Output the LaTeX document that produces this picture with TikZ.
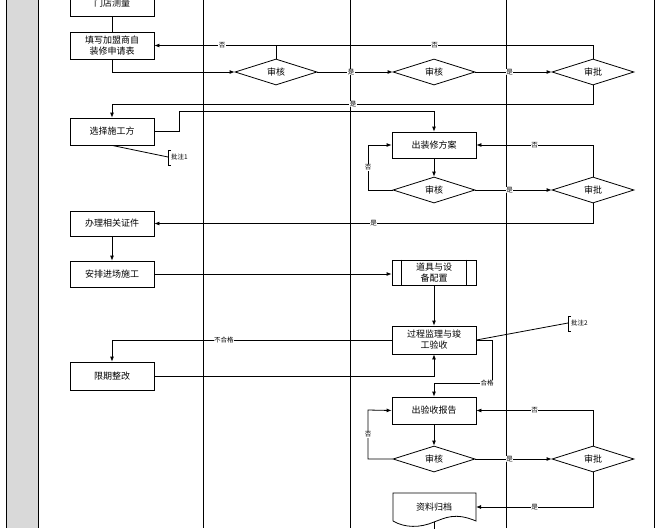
\documentclass[tikz,border=0pt]{standalone}
\usepackage{fontspec}
\setmainfont{Noto Sans CJK SC}
\usetikzlibrary{arrows.meta,shapes.geometric}
\begin{document}
\begin{tikzpicture}[x=1pt,y=-1pt,
 box/.style={draw,thick,minimum width=84pt,minimum height=27pt,align=center,font=\fontsize{9}{11}\selectfont,inner sep=1pt},
 dia/.style={draw,thick,diamond,minimum width=82pt,minimum height=26pt,aspect=3,inner sep=0pt,font=\fontsize{9}{11}\selectfont},
 lab/.style={fill=white,inner sep=0.5pt,font=\fontsize{6.5}{7}\selectfont},
 ar/.style={thick,-{Latex[length=5pt,width=4pt]}},
 ln/.style={thick},
 note/.style={font=\fontsize{6.5}{7}\selectfont,inner sep=1pt,anchor=west}]
\useasboundingbox (0,0) rectangle (664,528);
\clip (0,0) rectangle (664,528);
\fill[gray!30] (6,0) rectangle (38,528);
\foreach \x in {6,38,203,350,506,654} \draw[thick] (\x,0) -- (\x,528);
% left lane
\node[box,minimum height=26pt] (m) at (112,3) {门店测量};
\node[box] (t) at (112,45.5) {填写加盟商自\\装修申请表};
\node[box] (s) at (112,131.5) {选择施工方};
\node[box,minimum height=25pt] (b) at (112,223.5) {办理相关证件};
\node[box,minimum height=26pt] (a) at (112,274) {安排进场施工};
\node[box,minimum height=28pt] (x) at (112,376) {限期整改};
% row 1
\node[dia] (d1) at (276,72) {审核};
\node[dia] (d2) at (434,72) {审核};
\node[dia] (p1) at (593,72) {审批};
% row 2
\node[box,minimum height=26pt] (f) at (434,145) {出装修方案};
\node[dia] (d3) at (434,190) {审核};
\node[dia] (p2) at (593,190) {审批};
\node[box,minimum height=25pt] (g) at (434,272.5) {道具与设\\备配置};
\draw[thick] (g.north west)++(10,0) -- ++(0,25) (g.north east)++(-10,0) -- ++(0,25);
\node[box,minimum height=28pt] (h) at (434,340) {过程监理与竣\\工验收};
\node[box,minimum height=27pt] (r) at (434,410.5) {出验收报告};
\node[dia] (d4) at (434,459) {审核};
\node[dia] (p3) at (593,459) {审批};
\node[box,draw=none,minimum height=28pt] (z) at (434,507) {资料归档};
\draw[thick] (393,521) -- (393,493) -- (476,493) -- (476,521) .. controls (455,512) and (445,518) .. (434,522) .. controls (420,528) and (405,528) .. (393,521);
\coordinate (zb) at (434,522);
\coordinate (ze) at (434,530);
\draw[ln] (zb) -- (ze);
% connectors
\draw[ln] (m) -- (t);
\draw[ar] (t.south) |- (d1.west);
\draw[ar] (d1) -- node[lab,pos=0.45]{是} (d2);
\draw[ar] (d2) -- node[lab,pos=0.45]{是} (p1);
\draw[ar] (d1.north) |- (t.east);
\draw[ln] (p1.north) |- node[lab,pos=0.75]{否} (d1.north |- 0,45);
\node[lab] at (222,45) {否};
\draw[ar] (p1.south) |- (112,104) -- (s.north);
\node[lab] at (353,104) {是};
\draw[ar] (s.east) -| (179,111) -| (f.north);
\draw[ar] (f) -- (d3);
\draw[ar] (d3.west) -| node[lab,pos=0.75]{否} (368,145) -- (f.west);
\draw[ar] (d3) -- node[lab,pos=0.45]{是} (p2);
\draw[ar] (p2.north) |- node[lab,pos=0.75]{否} (f.east);
\draw[ar] (p2.south) |- node[lab,pos=0.75]{是} (b.east);
\draw[ar] (b) -- (a);
\draw[ar] (a.east) -- (g.west |- a.east);
\draw[ar] (g) -- (h);
\draw[ar] (h.west) -| node[lab,pos=0.3]{不合格} (x.north);
\draw[ar] (x.east) -| (h.south);
\draw[ar] (h.east) -| (492,383) -| (r.north);
\node[lab] at (487,383) {合格};
\draw[ar] (r) -- (d4);
\draw[ar] (d4.west) -| node[lab,pos=0.75]{否} (368,410) -- (r.west);
\draw[ar] (d4) -- node[lab,pos=0.45]{是} (p3);
\draw[ar] (p3.north) |- node[lab,pos=0.75]{否} (r.east);
\draw[ar] (p3.south) |- node[lab,pos=0.75]{是} (476,507);
% notes
\node[note] (n1) at (170,157) {批注1};
\draw[thick] (171,150) -- (168,150) -- (168,165) -- (171,165);
\draw[thick] (s.south) -- (168,157);
\node[note] (n2) at (570,323) {批注2};
\draw[thick] (571,316) -- (568,316) -- (568,331) -- (571,331);
\draw[thick] (h.east) -- (568,323);
\end{tikzpicture}
\end{document}
